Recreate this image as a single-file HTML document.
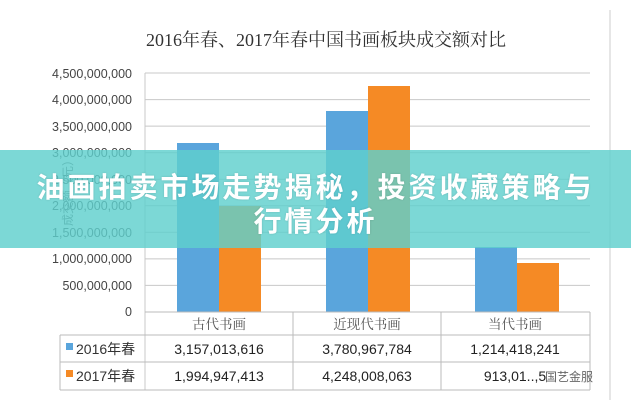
<!DOCTYPE html>
<html><head><meta charset="utf-8"><style>
body{margin:0;width:631px;height:400px;background:#fff;overflow:hidden;position:relative;font-family:"Liberation Sans","Noto Sans CJK SC",sans-serif}
.band{position:absolute;left:0;top:150px;width:631px;height:98px;background:rgba(95,208,205,0.82)}
.bt{position:absolute;left:0;width:631px;text-align:center;color:#fff;font-weight:bold;font-size:28px;letter-spacing:3px;font-family:"Noto Sans CJK SC",sans-serif;text-shadow:0 0 2px rgba(0,0,0,0.15)}
</style></head><body>
<svg width="631" height="400" style="position:absolute;left:0;top:0" font-family="Liberation Sans, Noto Sans CJK SC, sans-serif">
<line x1="610" y1="10" x2="610" y2="400" stroke="#ccc"/>
<text x="326" y="46" text-anchor="middle" font-size="18" fill="#333" font-family="Liberation Serif, Noto Serif CJK SC, serif">2016年春、2017年春中国书画板块成交额对比</text>
<g stroke="#c8c8c8">
<line x1="145" y1="73" x2="590" y2="73"/><line x1="145" y1="99.6" x2="590" y2="99.6"/><line x1="145" y1="126.1" x2="590" y2="126.1"/><line x1="145" y1="152.7" x2="590" y2="152.7"/><line x1="145" y1="179.2" x2="590" y2="179.2"/><line x1="145" y1="205.8" x2="590" y2="205.8"/><line x1="145" y1="232.3" x2="590" y2="232.3"/><line x1="145" y1="258.9" x2="590" y2="258.9"/><line x1="145" y1="285.4" x2="590" y2="285.4"/>
<line x1="145" y1="73" x2="145" y2="390"/>
</g>
<g font-size="12.5" fill="#444" text-anchor="end">
<text x="132" y="78">4,500,000,000</text><text x="132" y="104">4,000,000,000</text><text x="132" y="131">3,500,000,000</text><text x="132" y="157">3,000,000,000</text><text x="132" y="184">2,500,000,000</text><text x="132" y="210">2,000,000,000</text><text x="132" y="237">1,500,000,000</text><text x="132" y="263">1,000,000,000</text><text x="132" y="290">500,000,000</text><text x="132" y="316">0</text>
</g>
<text transform="translate(72,190) rotate(-90)" font-size="12" fill="#666" text-anchor="middle">成交额（元）</text>
<g fill="#5aa5dc"><rect x="177" y="143" width="42" height="169"/><rect x="326" y="111" width="42" height="201"/><rect x="475" y="247" width="42" height="65"/></g>
<g fill="#f58a25"><rect x="219" y="206" width="42" height="106"/><rect x="368" y="86" width="42" height="226"/><rect x="517" y="263" width="42" height="49"/></g>
<g stroke="#bbb" fill="none">
<line x1="145" y1="312" x2="590" y2="312"/><line x1="60" y1="335" x2="590" y2="335"/><line x1="60" y1="362" x2="590" y2="362"/><line x1="60" y1="390" x2="590" y2="390"/>
<line x1="60" y1="335" x2="60" y2="390"/><line x1="293" y1="312" x2="293" y2="390"/><line x1="441" y1="312" x2="441" y2="390"/><line x1="590" y1="312" x2="590" y2="390"/>
</g>
<g font-size="13.5" fill="#555" text-anchor="middle" font-family="Liberation Serif, Noto Serif CJK SC, serif">
<text x="219" y="329">古代书画</text><text x="367" y="329">近现代书画</text><text x="515" y="329">当代书画</text>
</g>
<g font-size="14" fill="#222" text-anchor="middle">
<text x="219" y="354">3,157,013,616</text><text x="367" y="354">3,780,967,784</text><text x="515" y="354">1,214,418,241</text>
<text x="219" y="381">1,994,947,413</text><text x="367" y="381">4,248,008,063</text><text x="515" y="381">913,01..,5</text>
</g>
<rect x="66" y="343" width="7" height="7" fill="#5aa5dc"/><rect x="66" y="370" width="7" height="7" fill="#f58a25"/>
<text x="76" y="354" font-size="14" fill="#333">2016年春</text><text x="76" y="381" font-size="14" fill="#333">2017年春</text>
<text x="545" y="381" font-size="12" fill="#666">国艺金服</text>
</svg>
<div class="band"></div>
<div class="bt" style="top:166px">油画拍卖市场走势揭秘，投资收藏策略与</div>
<div class="bt" style="top:200px">行情分析</div>
</body></html>
